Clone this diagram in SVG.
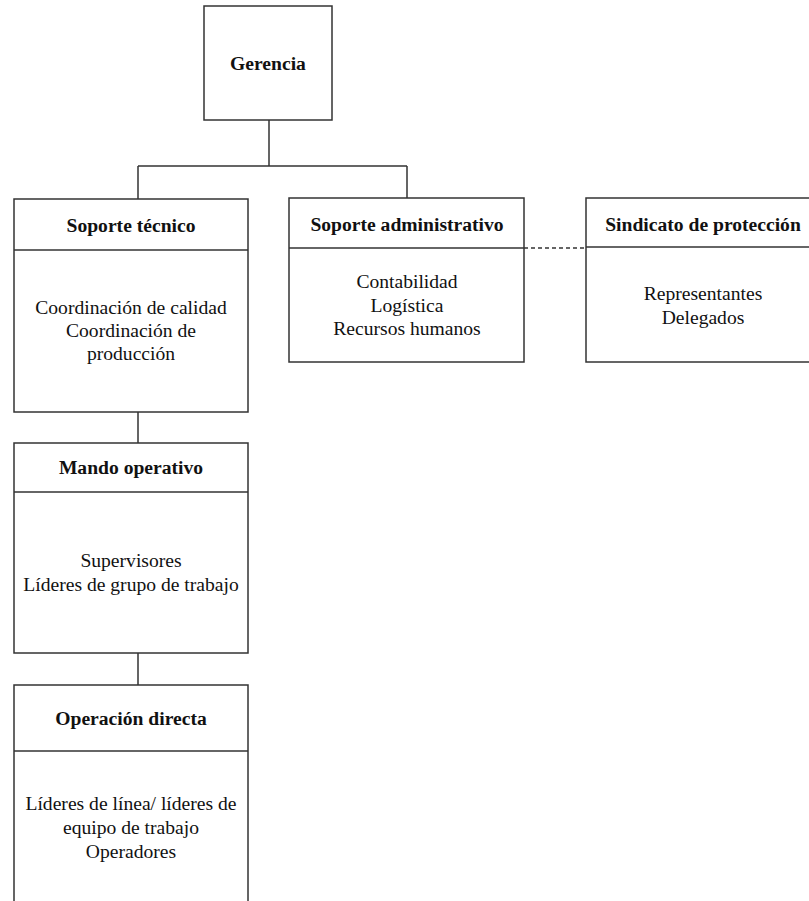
<svg xmlns="http://www.w3.org/2000/svg" width="809" height="901" viewBox="0 0 809 901">
<style>
.box{fill:#fff;stroke:#333;stroke-width:1.5}
.div{stroke:#333;stroke-width:1.5}
.con{fill:none;stroke:#333;stroke-width:1.5}
.dash{fill:none;stroke:#333;stroke-width:1.3;stroke-dasharray:4 3}
.h{font-family:"Liberation Serif",serif;font-weight:bold;font-size:19.6px;fill:#111;text-anchor:middle}
.t{font-family:"Liberation Serif",serif;font-size:19.6px;fill:#111;text-anchor:middle}
</style>
<rect width="809" height="901" fill="#fff"/>
<g id="connectors">
<path class="con" d="M269 120V166M138 166H407M138 166V199M407 166V198"/>
<path class="con" d="M138 412V443M138 653V685"/>
<path class="dash" d="M524 248H586"/>
</g>
<g id="gerencia">
<rect class="box" x="204" y="6" width="128" height="114"/>
<text class="h" x="268" y="70">Gerencia</text>
</g>
<g id="soporte-tecnico">
<rect class="box" x="14" y="199" width="234" height="213"/>
<line class="div" x1="14" y1="250" x2="248" y2="250"/>
<text class="h" x="131" y="232">Soporte técnico</text>
<text class="t" x="131" y="314">Coordinación de calidad</text>
<text class="t" x="131" y="337">Coordinación de</text>
<text class="t" x="131" y="360">producción</text>
</g>
<g id="soporte-administrativo">
<rect class="box" x="289" y="198" width="235" height="164"/>
<line class="div" x1="289" y1="248" x2="524" y2="248"/>
<text class="h" x="407" y="231">Soporte administrativo</text>
<text class="t" x="407" y="288">Contabilidad</text>
<text class="t" x="407" y="312">Logística</text>
<text class="t" x="407" y="335">Recursos humanos</text>
</g>
<g id="sindicato">
<rect class="box" x="586" y="198" width="236" height="164"/>
<line class="div" x1="586" y1="247" x2="822" y2="247"/>
<text class="h" x="703" y="231">Sindicato de protección</text>
<text class="t" x="703" y="300">Representantes</text>
<text class="t" x="703" y="324">Delegados</text>
</g>
<g id="mando-operativo">
<rect class="box" x="14" y="443" width="234" height="210"/>
<line class="div" x1="14" y1="492" x2="248" y2="492"/>
<text class="h" x="131" y="474">Mando operativo</text>
<text class="t" x="131" y="567">Supervisores</text>
<text class="t" x="131" y="591">Líderes de grupo de trabajo</text>
</g>
<g id="operacion-directa">
<rect class="box" x="14" y="685" width="234" height="230"/>
<line class="div" x1="14" y1="751" x2="248" y2="751"/>
<text class="h" x="131" y="725">Operación directa</text>
<text class="t" x="131" y="810">Líderes de línea/ líderes de</text>
<text class="t" x="131" y="834">equipo de trabajo</text>
<text class="t" x="131" y="858">Operadores</text>
</g>
</svg>
